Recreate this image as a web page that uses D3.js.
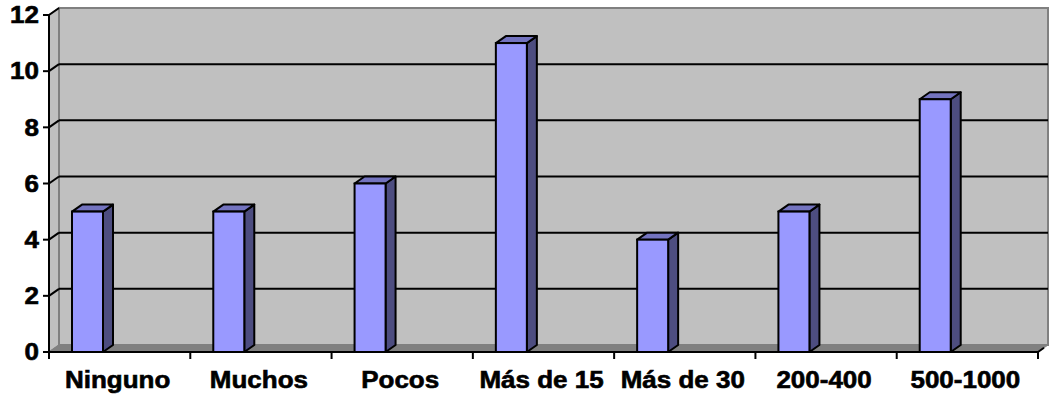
<!DOCTYPE html>
<html><head><meta charset="utf-8">
<script src="https://cdn.jsdelivr.net/npm/d3@7"></script>
<style>body{margin:0;background:#fff}svg{display:block}text{font-family:Arial,"Liberation Sans",sans-serif;font-weight:bold;fill:#000;stroke:#000;stroke-width:0.6px}</style>
</head><body>
<svg id="c" width="1053" height="400"></svg>
<script>
const categories = ["Ninguno","Muchos","Pocos","Más de 15","Más de 30","200-400","500-1000"];
const values = [5,5,6,11,4,5,9];
const yTicks = [0,2,4,6,8,10,12];

const svg = d3.select("#c");
const DX = 10, DY = -7;
const x = d3.scaleBand().domain(categories).range([49,1038]).padding(0);
const y = d3.scaleLinear().domain([0,12]).range([352,15]);
const x0 = 49, x1 = 1038;
const bw = 31, boff = 23;
const fs = 23, sx = 1.13;

// left wall
svg.append("polygon")
  .attr("points", [[x0,y(12)],[x0+DX,y(12)+DY],[x0+DX,y(0)+DY],[x0,y(0)]].join(" "))
  .attr("fill","#c0c0c0").attr("stroke","#808080").attr("stroke-width",1.5);
// back wall
svg.append("rect")
  .attr("x",x0+DX).attr("y",y(12)+DY).attr("width",x1-x0).attr("height",y(0)-y(12))
  .attr("fill","#c0c0c0").attr("stroke","#808080").attr("stroke-width",2);
// floor
svg.append("polygon")
  .attr("points", [[x0,y(0)],[x0+DX,y(0)+DY],[x1+DX,y(0)+DY],[x1,y(0)]].join(" "))
  .attr("fill","#808080").attr("stroke","#808080").attr("stroke-width",1);

// gridlines
const grid = yTicks.filter(v => v > 0);
svg.selectAll(".gb").data(grid.filter(v => v < 12)).join("line")
  .attr("x1",x0+DX).attr("x2",x1+DX)
  .attr("y1",d=>y(d)+DY).attr("y2",d=>y(d)+DY)
  .attr("stroke","#000").attr("stroke-width",2);
svg.selectAll(".gl").data(grid).join("line")
  .attr("x1",x0).attr("x2",x0+DX)
  .attr("y1",d=>y(d)).attr("y2",d=>y(d)+DY)
  .attr("stroke","#000").attr("stroke-width",2);

// bars
const bars = svg.selectAll(".bar").data(categories.map((c,i)=>({c,v:values[i]}))).join("g");
bars.append("polygon") // side
  .attr("points", d => { const l = x(d.c)+boff+bw, t = y(d.v), b = y(0);
    return [[l,t],[l+DX,t+DY],[l+DX,b+DY],[l,b]].join(" "); })
  .attr("fill","#4d4d80").attr("stroke","#000").attr("stroke-width",2).attr("stroke-linejoin","round");
bars.append("polygon") // top
  .attr("points", d => { const l = x(d.c)+boff, t = y(d.v);
    return [[l,t],[l+DX,t+DY],[l+bw+DX,t+DY],[l+bw,t]].join(" "); })
  .attr("fill","#7373bf").attr("stroke","#000").attr("stroke-width",2).attr("stroke-linejoin","round");
bars.append("rect") // front
  .attr("x", d => x(d.c)+boff).attr("y", d => y(d.v))
  .attr("width", bw).attr("height", d => y(0)-y(d.v))
  .attr("fill","#9999ff").attr("stroke","#000").attr("stroke-width",2);

// axes
svg.append("line").attr("x1",x0).attr("x2",x0).attr("y1",y(12)).attr("y2",y(0)+7)
  .attr("stroke","#000").attr("stroke-width",2);
svg.append("line").attr("x1",x0).attr("x2",x1).attr("y1",y(0)).attr("y2",y(0))
  .attr("stroke","#000").attr("stroke-width",2);
svg.append("line").attr("x1",x1).attr("x2",x1+DX*0.6).attr("y1",y(0)).attr("y2",y(0)+DY*0.6)
  .attr("stroke","#000").attr("stroke-width",2);
svg.selectAll(".yt").data(yTicks).join("line")
  .attr("x1",x0-6).attr("x2",x0).attr("y1",d=>y(d)).attr("y2",d=>y(d))
  .attr("stroke","#000").attr("stroke-width",2);
const bounds = categories.map(c => x(c)).concat([x1]);
svg.selectAll(".xt").data(bounds).join("line")
  .attr("x1",d=>d).attr("x2",d=>d).attr("y1",y(0)).attr("y2",y(0)+7)
  .attr("stroke","#000").attr("stroke-width",2);

// labels
svg.selectAll(".yl").data(yTicks).join("text")
  .attr("transform", d => `translate(${x0-10},${y(d)+8.3}) scale(${sx},1)`)
  .attr("text-anchor","end").attr("font-size",fs).text(d=>d);
svg.selectAll(".xl").data(categories).join("text")
  .attr("transform", d => `translate(${x(d)+x.bandwidth()/2-2},388) scale(${sx},1)`)
  .attr("text-anchor","middle").attr("font-size",fs).text(d=>d);
</script>
</body></html>
